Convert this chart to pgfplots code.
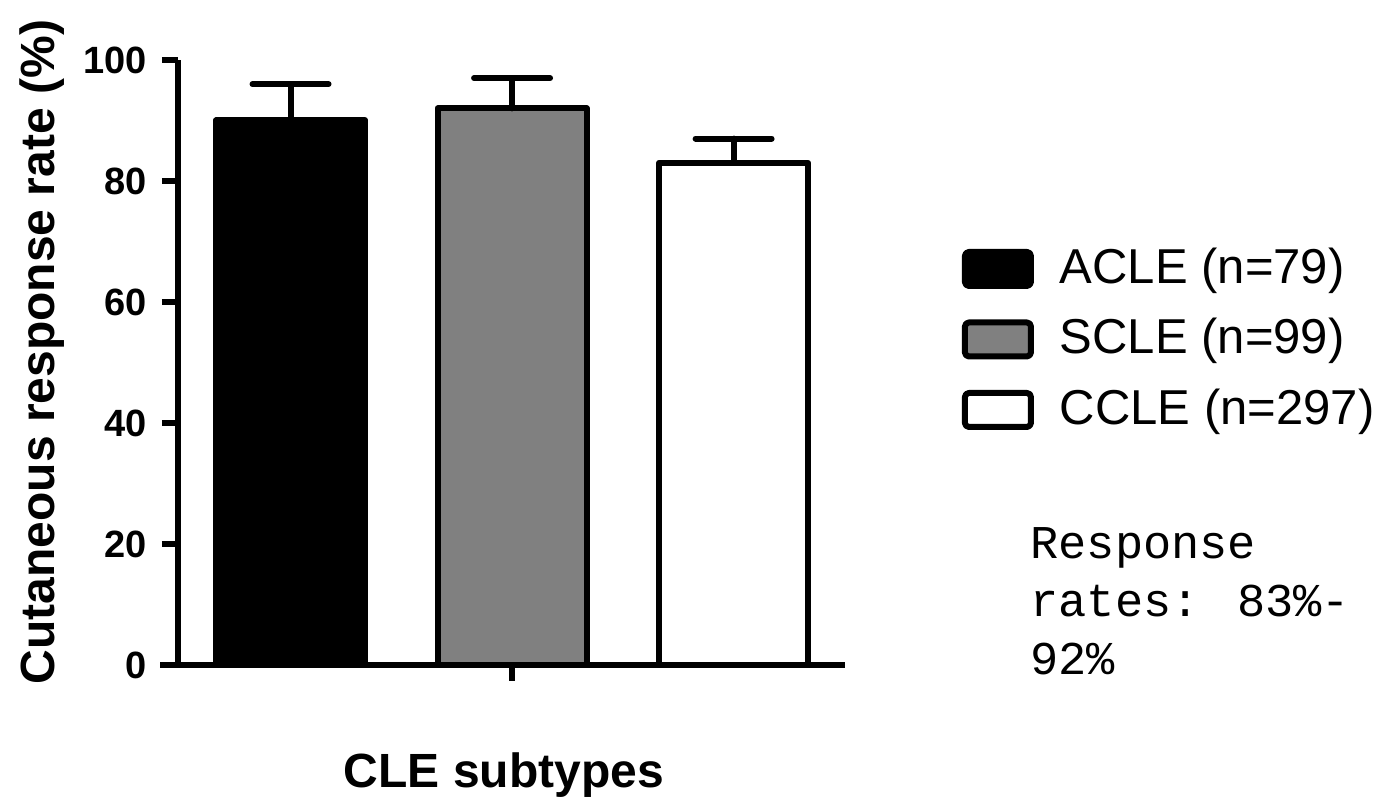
\documentclass[border=0pt]{standalone}
\usepackage{pgfplots}
\pgfplotsset{compat=1.18}
\usepackage{fontspec}
\setmainfont{Liberation Sans}
\newfontfamily\monofont{Liberation Mono}
\begin{document}
\begin{tikzpicture}
\path[use as bounding box] (0,0) rectangle (698pt,400.5pt);
\begin{axis}[
  at={(89pt,68pt)}, anchor=south west,
  width=333.5pt, height=302.5pt, scale only axis,
  xmin=0.492, xmax=3.503, ymin=0, ymax=100,
  axis lines=left,
  axis line style={-, line width=3pt, black},
  xtick={2}, xticklabels={},
  ytick={0,20,40,60,80,100},
  tick align=outside,
  major tick length=8pt,
  tick style={line width=3pt, black},
  /pgf/number format/assume math mode=true,
  yticklabel style={font=\bfseries\fontsize{19}{23}\selectfont, xshift=-4pt},
  bar shift=0pt,
  clip=false,
  legend cell align=left,
  legend style={at={(1.1747,0.697)}, anchor=north west, draw=none, fill=none,
    inner sep=0pt, row sep=12pt, font=\fontsize{24.5}{28}\selectfont,
    nodes={inner xsep=13pt}},
  legend image code/.code={\draw[#1, line width=3pt, rounded corners=2pt] (0pt,-9.5pt) rectangle (33pt,7.5pt);},
]
\addplot[ybar, bar width=74.5pt, fill=black, draw=black, line width=3pt, line join=round,
  error bars/.cd, y dir=plus, y explicit,
  error bar style={line width=3pt, black, line cap=round},
  error mark options={line width=3pt, mark size=19pt, black, line cap=round, rotate=90}]
  coordinates {(1,90) +- (0,6)};
\addlegendentry{ACLE (n=79)}
\addplot[ybar, bar width=74.5pt, fill={rgb,255:red,128;green,128;blue,128}, draw=black, line width=3pt, line join=round,
  error bars/.cd, y dir=plus, y explicit,
  error bar style={line width=3pt, black, line cap=round},
  error mark options={line width=3pt, mark size=19pt, black, line cap=round, rotate=90}]
  coordinates {(2,92) +- (0,5)};
\addlegendentry{SCLE (n=99)}
\addplot[ybar, bar width=74.5pt, fill=white, draw=black, line width=3pt, line join=round,
  error bars/.cd, y dir=plus, y explicit,
  error bar style={line width=3pt, black, line cap=round},
  error mark options={line width=3pt, mark size=19pt, black, line cap=round, rotate=90}]
  coordinates {(3,83) +- (0,4)};
\addlegendentry{CCLE (n=297)}
\draw[line width=3pt, black] (axis cs:0.492,0) -- (axis cs:0.411,0);
\end{axis}
\node[rotate=90, font=\bfseries\fontsize{24}{28}\selectfont] at (21pt,224.5pt) {Cutaneous response rate (\%)};
\node[font=\bfseries\fontsize{24}{28}\selectfont] at (252pt,13pt) {CLE subtypes};
\node[anchor=base west, inner sep=0pt, font=\monofont\fontsize{23.5}{28}\selectfont] at (515pt,121pt) {Response};
\node[anchor=base west, inner sep=0pt, font=\monofont\fontsize{23.5}{28}\selectfont] at (515pt,92pt) {rates: 83\%-};
\node[anchor=base west, inner sep=0pt, font=\monofont\fontsize{23.5}{28}\selectfont] at (515pt,63pt) {92\%};
\end{tikzpicture}
\end{document}
